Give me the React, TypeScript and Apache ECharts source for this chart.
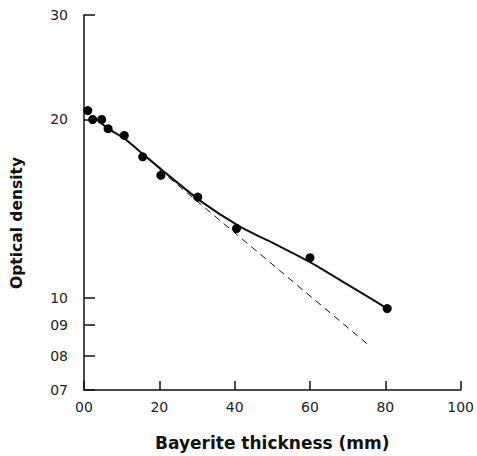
import React, { useEffect, useRef } from "react";
import * as echarts from "echarts";

// Measured points: bayerite thickness (mm) vs optical density
const thickness = [0.1, 0.23, 0.47, 0.64, 1.07, 1.56, 2.04, 3.02, 4.05, 6.0, 8.05];
const density = [2.07, 2.0, 2.0, 1.93, 1.88, 1.73, 1.61, 1.48, 1.31, 1.17, 0.96];

// Solid fitted curve
const fitX = [0.3, 0.64, 1.06, 1.56, 2.04, 3.08, 4.14, 5.0, 6.0, 7.0, 8.0];
const fitY = [2.01, 1.93, 1.86, 1.75, 1.65, 1.46, 1.32, 1.24, 1.15, 1.054, 0.965];

// Dashed straight-line (exponential) extrapolation
const dashX = [2.0, 7.53];
const dashY = [1.647, 0.836];

// Axis ticks
const xTickValues = [0, 2, 4, 6, 8, 10];
const xTickLabels = ["00", "20", "40", "60", "80", "100"];
const yTickValues = [0.7, 0.8, 0.9, 1.0, 2.0, 3.0];
const yTickLabels = ["07", "08", "09", "10", "20", "30"];

const lg = (v: number) => Math.log10(v);

export default function App() {
  const ref = useRef<HTMLDivElement>(null);

  useEffect(() => {
    if (!ref.current) return;
    const chart = echarts.init(ref.current, undefined, { renderer: "svg" });
    const ink = "#111";
    const yLogTicks = yTickValues.map(lg);
    const option: any = {
      animation: false,
      backgroundColor: "#fff",
      grid: { left: 84, right: 16, top: 15, bottom: 64 },
      xAxis: {
        type: "value",
        min: 0,
        max: 10,
        interval: 2,
        splitLine: { show: false },
        axisLine: { onZero: false, lineStyle: { color: ink, width: 1.5 } },
        axisTick: { inside: true, length: 9, lineStyle: { color: ink, width: 1.5 } },
        axisLabel: {
          margin: 10,
          fontSize: 14,
          fontFamily: "DejaVu Sans",
          color: "#222",
          formatter: (v: number) => {
            const i = xTickValues.findIndex((t) => Math.abs(t - v) < 1e-6);
            return i >= 0 ? xTickLabels[i] : "";
          },
        },
        name: "Bayerite thickness (mm)",
        nameLocation: "middle",
        nameGap: 44,
        nameTextStyle: { fontSize: 17, fontWeight: "bold", fontFamily: "DejaVu Sans", color: ink },
      },
      yAxis: {
        type: "value",
        min: lg(0.7),
        max: lg(3.0),
        splitLine: { show: false },
        axisLine: { show: true, onZero: false, lineStyle: { color: ink, width: 1.5 } },
        axisTick: {
          show: true,
          inside: true,
          length: 11,
          customValues: yLogTicks,
          lineStyle: { color: ink, width: 1.5 },
        },
        axisLabel: {
          margin: 16,
          fontSize: 14,
          fontFamily: "DejaVu Sans",
          color: "#222",
          customValues: yLogTicks,
          formatter: (v: number) => {
            const i = yLogTicks.findIndex((t) => Math.abs(t - v) < 1e-6);
            return i >= 0 ? yTickLabels[i] : "";
          },
        },
      },
      graphic: [
        {
          type: "text",
          x: 17,
          y: 223,
          rotation: Math.PI / 2,
          style: {
            text: "Optical density",
            fontSize: 15.5,
            fontWeight: "bold",
            fontFamily: "DejaVu Sans",
            fill: ink,
            align: "center",
            verticalAlign: "middle",
          },
        },
      ],
      series: [
        {
          type: "line",
          data: dashX.map((x, i) => [x, lg(dashY[i])]),
          symbol: "none",
          lineStyle: { color: ink, width: 1, type: [7, 5] },
          z: 1,
        },
        {
          type: "line",
          data: fitX.map((x, i) => [x, lg(fitY[i])]),
          symbol: "none",
          smooth: 0.2,
          lineStyle: { color: ink, width: 2 },
          z: 2,
        },
        {
          type: "scatter",
          data: thickness.map((x, i) => [x, lg(density[i])]),
          symbol: "circle",
          symbolSize: 9,
          itemStyle: { color: "#000", opacity: 1 },
          z: 3,
        },
      ],
    };
    chart.setOption(option);
    return () => chart.dispose();
  }, []);

  return (
    <div
      ref={ref}
      style={{ position: "fixed", left: 0, top: 0, width: 477, height: 456 }}
    />
  );
}
